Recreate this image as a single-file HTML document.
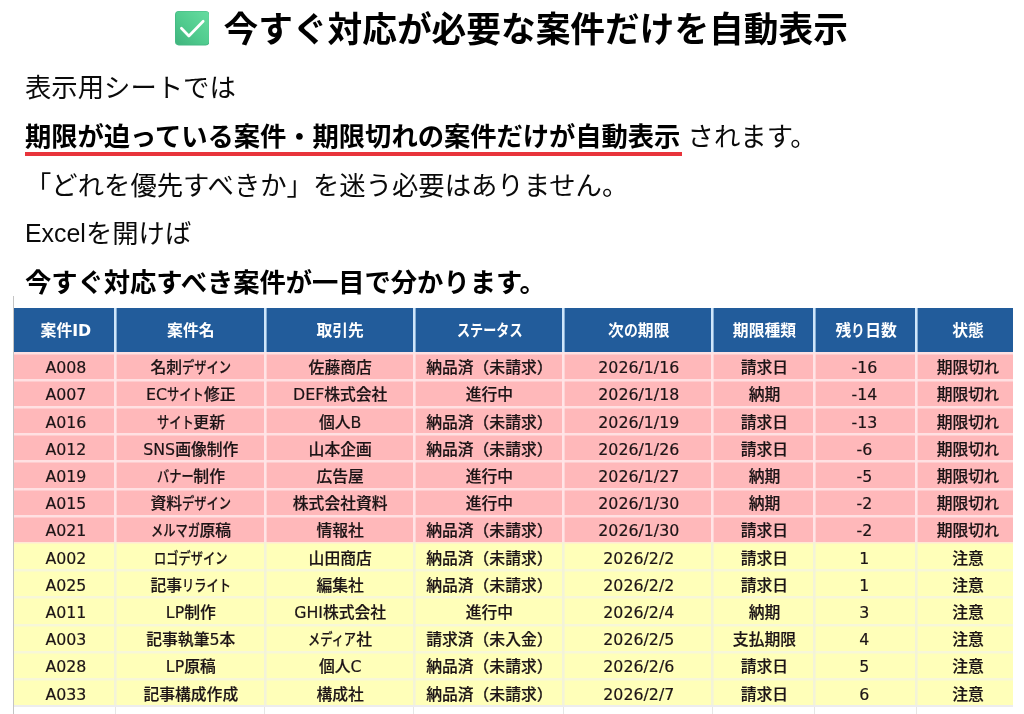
<!DOCTYPE html>
<html lang="ja"><head><meta charset="utf-8"><title>今すぐ対応が必要な案件だけを自動表示</title>
<style>
html,body{margin:0;padding:0;background:#fff;}
body{width:1024px;height:714px;overflow:hidden;position:relative;font-family:"Liberation Sans","Noto Sans CJK JP",sans-serif;color:#000;}
h1{position:absolute;left:174.9px;top:1.3px;margin:0;font-size:34.7px;font-weight:700;line-height:58px;height:58px;white-space:nowrap;color:#000;}
h1 .chk{display:inline-block;vertical-align:top;width:34.4px;height:34.4px;margin-right:14.2px;margin-top:10.2px;}
p{position:absolute;left:25px;margin:0;font-size:26.35px;line-height:48px;white-space:nowrap;color:#0a0a0a;}
p b{font-weight:700;color:#000;letter-spacing:-0.08px;}
.p1{top:64px}.p2{top:112.8px}.p3{top:161.6px}.p4{top:210.4px}.p5{top:259.2px}
.ul{display:inline-block;position:relative;letter-spacing:-0.08px;}
.ul::after{content:"";position:absolute;left:-0.3px;right:-1.4px;top:39.3px;height:4px;background:#e8343b;}
.ex{display:inline-block;transform:scaleX(.945);transform-origin:0 50%;margin-right:-3.5px;position:relative;top:-1px;}
  .clip{position:absolute;left:-0.3px;top:11.5px;width:999.3px;height:400px;overflow:hidden;}
.sheet{position:absolute;left:13px;top:296px;width:1011px;height:418px;border-left:1px solid #c4c4c4;}
table{position:absolute;left:0;top:0;border-collapse:separate;border-spacing:0;table-layout:fixed;width:1002.9px;font-family:"DejaVu Sans","Liberation Sans","Noto Sans CJK JP",sans-serif;}
th,td{padding:0 0 0 4.4px;text-align:center;box-sizing:border-box;font-size:15.8px;white-space:nowrap;overflow:hidden;}
th{background:#225c9b;color:#fff;font-weight:700;height:44px;line-height:44px;}
td{height:27.2px;line-height:27.2px;color:#1c1416;font-weight:500;}
th span{position:relative;top:1px;}
td span{position:relative;top:2.6px;-webkit-text-stroke:0.18px #1c1416;}
th+th{box-shadow:inset 2.6px 0 0 #cfe6fb;}
tr.red td{background:#ffb8ba;box-shadow:inset 0 2.4px 0 #ffe0e2;}
tr.yel td{background:#ffffb9;box-shadow:inset 0 2.5px 0 #f7f7d8;}
tr.red td+td{box-shadow:inset 2.6px 0 0 #ffe4e6, inset 0 2.4px 0 #ffe0e2;}
tr.yel td+td{box-shadow:inset 2.6px 0 0 #f3f3d8, inset 0 2.5px 0 #f7f7d8;}
tr.y1 td{box-shadow:inset 0 1.4px 0 #ffe9d6;}
tr.y1 td+td{box-shadow:inset 2.6px 0 0 #f3f3d8, inset 0 1.4px 0 #ffe9d6;}
i.k,i.h{font-style:normal;display:inline-block;transform-origin:0 50%;}
td i.k{transform:scaleX(.775);margin-right:calc(var(--n) * -3.555px);}
td i.h{transform:scaleX(.95);margin-right:calc(var(--n) * -0.79px);}
th i.k{transform:scaleX(.83);margin-right:calc(var(--n) * -2.69px);}
th i.h{transform:scaleX(.88);margin-right:calc(var(--n) * -1.9px);}
.c1{width:100px}.c2{width:149.8px}.c3{width:149px}.c4{width:149.3px}.c5{width:149.6px}.c6{width:101.7px}.c7{width:101.8px}.c8{width:101.7px}
.gl{position:absolute;top:411px;height:7px;width:1px;background:#e6e6e6;}
.gh{position:absolute;left:0;top:409.3px;width:999px;height:1.8px;background:#ededed;}
td:nth-child(7) span{left:-1.8px;}
</style></head>
<body>
<h1><svg class="chk" viewBox="0 0 34.4 34.4"><defs><linearGradient id="g" x1="1" y1="0" x2="0" y2="1"><stop offset="0" stop-color="#66dca0"/><stop offset="0.55" stop-color="#50cb8e"/><stop offset="1" stop-color="#40b47d"/></linearGradient></defs><rect x="0" y="0" width="34.4" height="34.4" rx="3.8" fill="#45b984"/><rect x="0.9" y="0.5" width="33" height="33" rx="3.4" fill="url(#g)"/><path d="M6.4 17.2l7.5 7.8L28.2 10.3" fill="none" stroke="#fff" stroke-width="2.7" stroke-linecap="round" stroke-linejoin="round"/></svg>今すぐ対応が必要な案件だけを自動表示</h1>
<p class="p1">表示用シートでは</p>
<p class="p2"><b class="ul">期限が迫っている案件・期限切れの案件だけが自動表示</b> されます。</p>
<p class="p3">「どれを優先すべきか」を迷う必要はありません。</p>
<p class="p4"><span class="ex">Excel</span>を開けば</p>
<p class="p5"><b>今すぐ対応すべき案件が一目で分かります。</b></p>
<div class="sheet">
<div class="clip">
<table>
<colgroup><col class="c1"><col class="c2"><col class="c3"><col class="c4"><col class="c5"><col class="c6"><col class="c7"><col class="c8"></colgroup>
<thead><tr><th><span>案件ID</span></th><th><span>案件名</span></th><th><span>取引先</span></th><th><span><i class="k" style="--n:5">ステータス</i></span></th><th><span>次<i class="h" style="--n:1">の</i>期限</span></th><th><span>期限種類</span></th><th><span>残<i class="h" style="--n:1">り</i>日数</span></th><th><span>状態</span></th></tr></thead>
<tbody>
<tr class="red"><td><span>A008</span></td><td><span>名刺<i class="k" style="--n:4">デザイン</i></span></td><td><span>佐藤商店</span></td><td><span>納品済（未請求）</span></td><td><span>2026/1/16</span></td><td><span>請求日</span></td><td><span>-16</span></td><td><span>期限切<i class="h" style="--n:1">れ</i></span></td></tr>
<tr class="red"><td><span>A007</span></td><td><span>EC<i class="k" style="--n:3">サイト</i>修正</span></td><td><span>DEF株式会社</span></td><td><span>進行中</span></td><td><span>2026/1/18</span></td><td><span>納期</span></td><td><span>-14</span></td><td><span>期限切<i class="h" style="--n:1">れ</i></span></td></tr>
<tr class="red"><td><span>A016</span></td><td><span><i class="k" style="--n:3">サイト</i>更新</span></td><td><span>個人B</span></td><td><span>納品済（未請求）</span></td><td><span>2026/1/19</span></td><td><span>請求日</span></td><td><span>-13</span></td><td><span>期限切<i class="h" style="--n:1">れ</i></span></td></tr>
<tr class="red"><td><span>A012</span></td><td><span>SNS画像制作</span></td><td><span>山本企画</span></td><td><span>納品済（未請求）</span></td><td><span>2026/1/26</span></td><td><span>請求日</span></td><td><span>-6</span></td><td><span>期限切<i class="h" style="--n:1">れ</i></span></td></tr>
<tr class="red"><td><span>A019</span></td><td><span><i class="k" style="--n:3">バナー</i>制作</span></td><td><span>広告屋</span></td><td><span>進行中</span></td><td><span>2026/1/27</span></td><td><span>納期</span></td><td><span>-5</span></td><td><span>期限切<i class="h" style="--n:1">れ</i></span></td></tr>
<tr class="red"><td><span>A015</span></td><td><span>資料<i class="k" style="--n:4">デザイン</i></span></td><td><span>株式会社資料</span></td><td><span>進行中</span></td><td><span>2026/1/30</span></td><td><span>納期</span></td><td><span>-2</span></td><td><span>期限切<i class="h" style="--n:1">れ</i></span></td></tr>
<tr class="red"><td><span>A021</span></td><td><span><i class="k" style="--n:4">メルマガ</i>原稿</span></td><td><span>情報社</span></td><td><span>納品済（未請求）</span></td><td><span>2026/1/30</span></td><td><span>請求日</span></td><td><span>-2</span></td><td><span>期限切<i class="h" style="--n:1">れ</i></span></td></tr>
<tr class="yel y1"><td><span>A002</span></td><td><span><i class="k" style="--n:6">ロゴデザイン</i></span></td><td><span>山田商店</span></td><td><span>納品済（未請求）</span></td><td><span>2026/2/2</span></td><td><span>請求日</span></td><td><span>1</span></td><td><span>注意</span></td></tr>
<tr class="yel"><td><span>A025</span></td><td><span>記事<i class="k" style="--n:4">リライト</i></span></td><td><span>編集社</span></td><td><span>納品済（未請求）</span></td><td><span>2026/2/2</span></td><td><span>請求日</span></td><td><span>1</span></td><td><span>注意</span></td></tr>
<tr class="yel"><td><span>A011</span></td><td><span>LP制作</span></td><td><span>GHI株式会社</span></td><td><span>進行中</span></td><td><span>2026/2/4</span></td><td><span>納期</span></td><td><span>3</span></td><td><span>注意</span></td></tr>
<tr class="yel"><td><span>A003</span></td><td><span>記事執筆5本</span></td><td><span><i class="k" style="--n:4">メディア</i>社</span></td><td><span>請求済（未入金）</span></td><td><span>2026/2/5</span></td><td><span>支払期限</span></td><td><span>4</span></td><td><span>注意</span></td></tr>
<tr class="yel"><td><span>A028</span></td><td><span>LP原稿</span></td><td><span>個人C</span></td><td><span>納品済（未請求）</span></td><td><span>2026/2/6</span></td><td><span>請求日</span></td><td><span>5</span></td><td><span>注意</span></td></tr>
<tr class="yel"><td><span>A033</span></td><td><span>記事構成作成</span></td><td><span>構成社</span></td><td><span>納品済（未請求）</span></td><td><span>2026/2/7</span></td><td><span>請求日</span></td><td><span>6</span></td><td><span>注意</span></td></tr>
</tbody></table>
</div>
<div class="gh"></div><div class="gl" style="left:100.6px"></div><div class="gl" style="left:250.4px"></div><div class="gl" style="left:399.4px"></div><div class="gl" style="left:548.7px"></div><div class="gl" style="left:698.3px"></div><div class="gl" style="left:800.0px"></div><div class="gl" style="left:901.8px"></div>
</div>
</body></html>
